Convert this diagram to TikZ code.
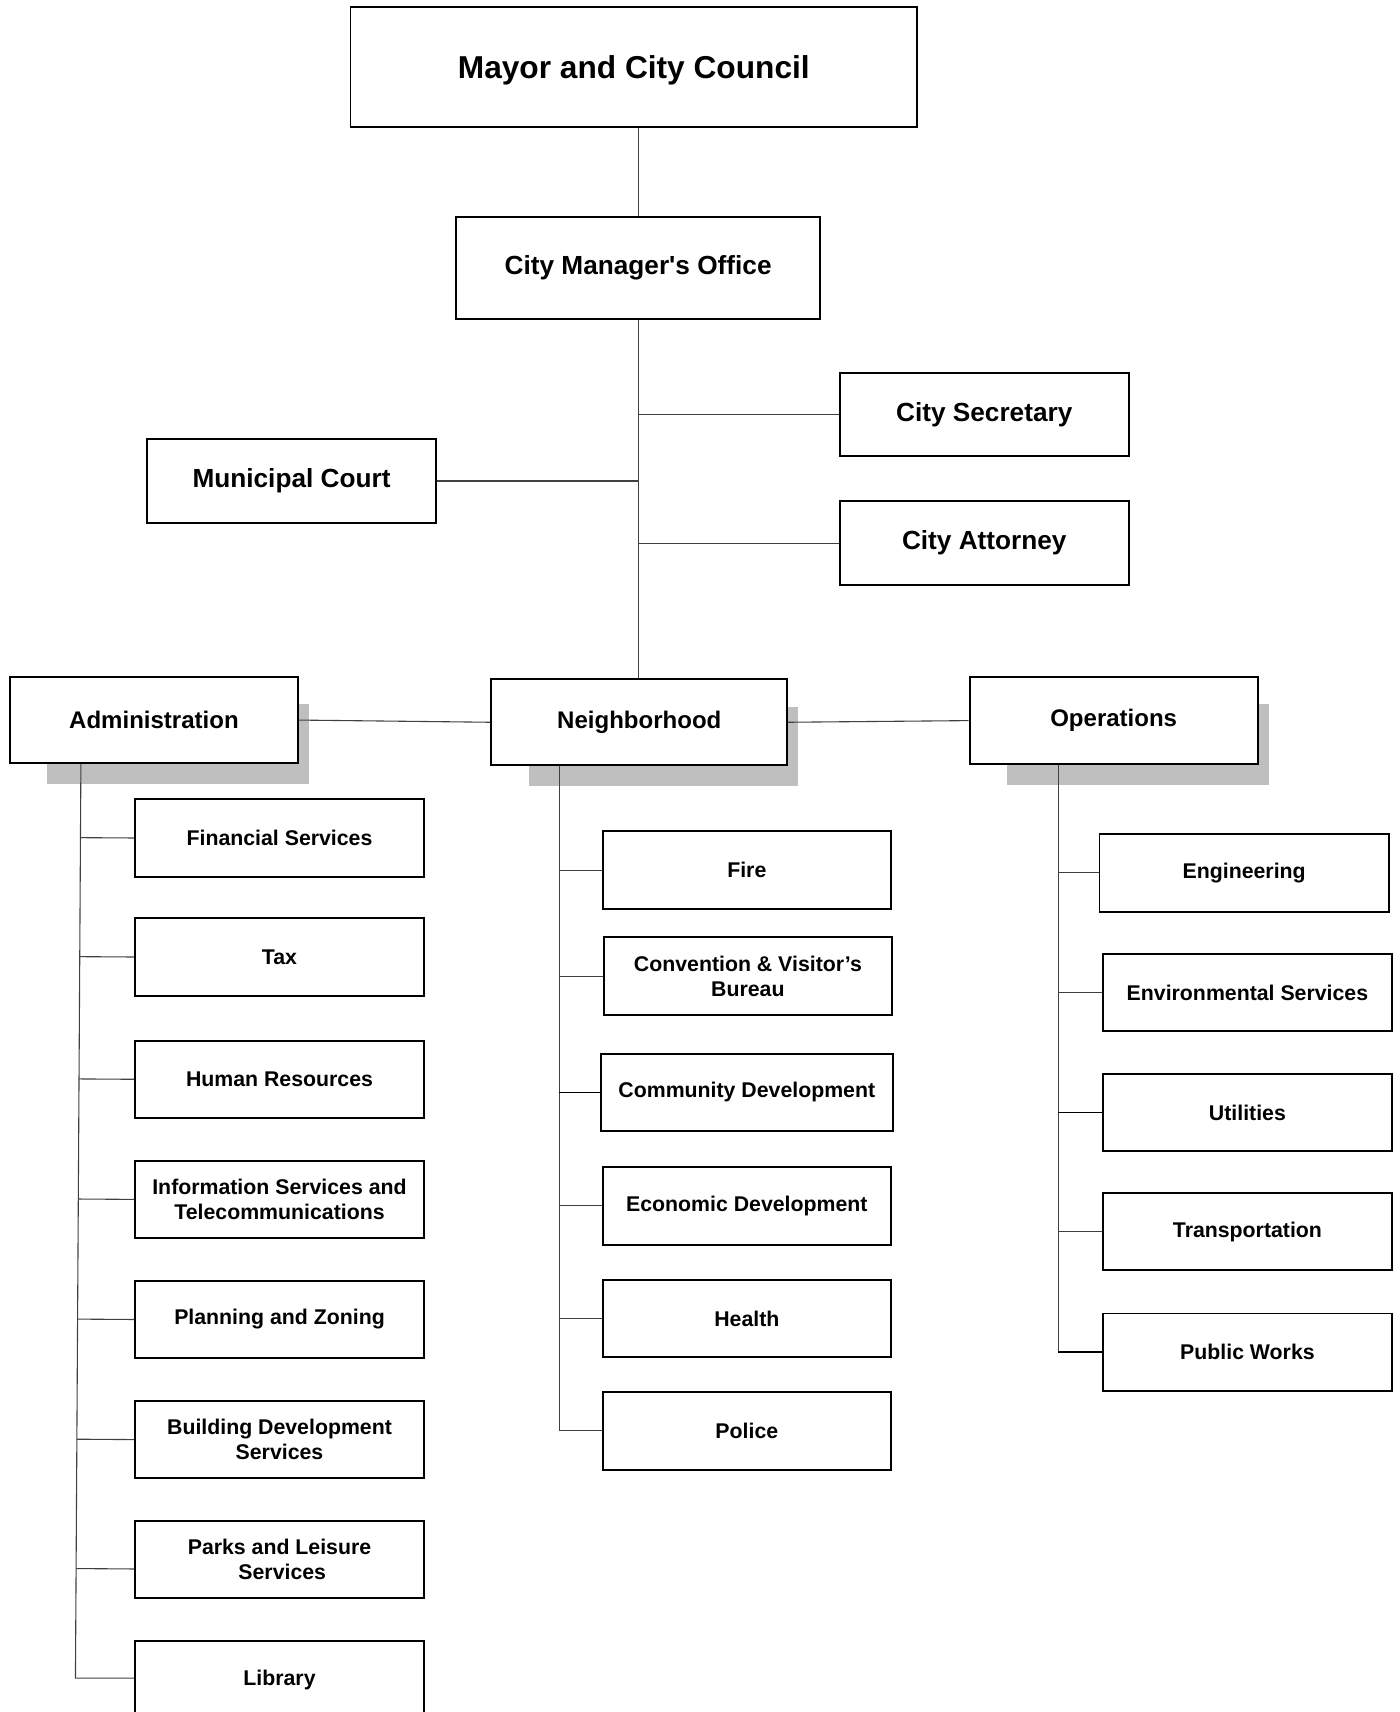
\documentclass[tikz,border=0pt]{standalone}
\usepackage{fontspec}
\setmainfont{Liberation Sans}[Ligatures=TeXOff]
\usetikzlibrary{calc,backgrounds}
\begin{document}
\begin{tikzpicture}[x=1pt,y=-1pt,
  box/.style={draw, line width=1.8pt, fill=white, inner sep=0pt, align=center},
  topbox/.style={box, font=\fontsize{29}{34}\selectfont\bfseries},
  midbox/.style={box, font=\fontsize{24}{28}\selectfont\bfseries},
  deptbox/.style={box, font=\fontsize{22}{26}\selectfont\bfseries},
  unitbox/.style={box, minimum width=264pt, minimum height=71pt, font=\fontsize{19.5}{23}\selectfont\bfseries},
  link/.style={line width=1pt, draw=black!75},
  boldlink/.style={line width=1.6pt, draw=black},
  shade/.style={fill=black!25, draw=none}]
\useasboundingbox (0,0) rectangle (1282,1568);

% top of the hierarchy
\node[topbox, minimum width=519pt, minimum height=110pt, text depth=-3pt] (mayor) at (580.5,61) {Mayor and City Council};
\node[midbox, minimum width=333pt, minimum height=93pt] (cm) at (584.5,245.5) {City Manager's Office};
\node[midbox, minimum width=265pt, minimum height=76pt] (sec) at (901.5,380) {City Secretary};
\node[midbox, minimum width=265pt, minimum height=77pt] (att) at (901.5,497.5) {City Attorney};
\node[midbox, minimum width=264pt, minimum height=77pt] (court) at (267,440.5) {Municipal Court};

% departments
\node[deptbox, minimum width=264pt, minimum height=79pt] (admin) at (141,659.5) {Administration};
\node[deptbox, minimum width=271pt, minimum height=79pt] (nb) at (585.5,661.5) {Neighborhood};
\node[deptbox, minimum width=264pt, minimum height=80pt] (ops) at (1020,660) {Operations};

% administration units
\node[unitbox] (fin) at (256,767.5) {Financial Services};
\node[unitbox] (tax) at (256,876.5) {Tax};
\node[unitbox] (hr) at (256,988.5) {Human Resources};
\node[unitbox] (info) at (256,1098.5) {Information Services and\\Telecommunications};
\node[unitbox] (plan) at (256,1208.5) {Planning and Zoning};
\node[unitbox] (bld) at (256,1318.5) {Building Development\\Services};
\node[unitbox] (parks) at (256,1428.5) {Parks and Leisure\\\hspace*{5pt}Services};
\node[unitbox] (lib) at (256,1538.5) {Library};

% neighborhood units
\node[unitbox] (fire) at (684,797) {Fire};
\node[unitbox] (conv) at (685,894) {Convention \& Visitor’s\\Bureau};
\node[unitbox, minimum width=268pt] (comm) at (684,1000.5) {Community Development};
\node[unitbox] (econ) at (684,1104.5) {Economic Development};
\node[unitbox] (health) at (684,1207.5) {Health};
\node[unitbox] (police) at (684,1310.5) {Police};

% operations units
\node[unitbox, minimum width=265pt] (eng) at (1139.5,799.5) {Engineering};
\node[unitbox, minimum width=265pt] (env) at (1142.5,909) {Environmental Services};
\node[unitbox, minimum width=265pt] (util) at (1142.5,1019) {Utilities};
\node[unitbox, minimum width=265pt] (trans) at (1142.5,1128) {Transportation};
\node[unitbox, minimum width=265pt] (pw) at (1142.5,1238.5) {Public Works};

% drop shadows behind the department boxes
\begin{scope}[on background layer]
  \foreach \d in {admin,nb,ops}
    \fill[shade] ($(\d.north west)+(35,26)$) rectangle ($(\d.south east)+(9,18)$);
\end{scope}

% main trunk
\draw[link] (cm.north) -- (cm.north |- mayor.south);
\draw[link] (cm.south) -- (cm.south |- nb.north);
\draw[link] (cm.south |- sec.west) -- (sec.west);
\draw[link] (cm.south |- att.west) -- (att.west);
\draw[link] (court.east) -- (court.east -| cm.south);

% department links
\draw[link] (admin.east) -- (nb.west);
\draw[link] (nb.east) -- (ops.west);

% administration branch
\coordinate (at) at ($(admin.south west)+(66,0)$);
\coordinate (ab) at ($(lib.west)+(-54,-1.5)$);
\draw[link] (at) -- (ab) -- ($(lib.west)+(0,-1.5)$);
\foreach \u in {fin,tax,hr,info,plan,bld}
  \draw[link] ($(at)!(\u.west)!(ab)$) -- (\u.west);
\draw[link] ($(at)!($(parks.west)+(0,8.5)$)!(ab)$) -- ($(parks.west)+(0,8.5)$);

% neighborhood branch
\coordinate (nt) at ($(nb.south west)+(63,0)$);
\draw[link] (nt) -- (nt |- police.west) -- (police.west);
\foreach \u in {fire,conv,econ,health}
  \draw[link] (nt |- \u.west) -- (\u.west);
\draw[boldlink] (nt |- comm.west) -- (comm.west);

% operations branch
\coordinate (ot) at ($(ops.south west)+(82,0)$);
\draw[link] (ot) -- (ot |- pw.west);
\foreach \u in {eng,env,trans}
  \draw[link] (ot |- \u.west) -- (\u.west);
\draw[boldlink] (ot |- util.west) -- (util.west);
\draw[boldlink] (ot |- pw.west) -- (pw.west);
\end{tikzpicture}
\end{document}
